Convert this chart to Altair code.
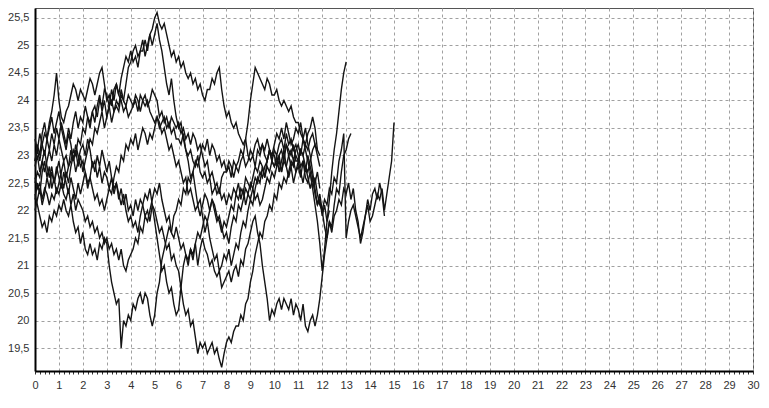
import altair as alt
import pandas as pd

# y values, one value every 0.1 on the x axis, starting at x = 0
s1 = [22.5, 22.7, 22.6, 22.9, 22.7, 22.9, 23.1, 22.9, 23.2, 23.0,
      23.3, 23.1, 22.9, 23.0, 22.8, 22.9, 23.1, 23.0, 23.3, 23.2,
      23.5, 23.4, 23.7, 23.6, 23.8, 23.9, 23.7, 24.0, 23.9, 24.2,
      24.1, 23.9, 24.0, 23.8, 23.9, 23.8, 24.1, 24.0, 24.3, 24.6,
      24.7, 24.9, 25.0, 24.8, 24.9, 24.9, 25.1, 24.9, 25.2, 25.3,
      25.5, 25.6, 25.4, 25.3, 25.4, 25.2, 25.0, 24.8, 24.9, 24.7,
      24.8, 24.6, 24.7, 24.5, 24.4, 24.5, 24.3, 24.4, 24.2, 24.3,
      24.1, 24.0, 24.2, 24.2, 24.4, 24.3, 24.5, 24.6, 24.2, 23.9,
      23.7, 23.8, 23.6, 23.5, 23.6, 23.4, 23.3, 23.2, 23.3, 23.0,
      22.9, 23.0, 22.8, 23.1, 23.0, 23.2, 23.1, 23.3, 23.1, 23.0,
      23.0, 22.8, 23.0, 23.1, 22.9, 23.2, 23.1, 23.0, 23.2, 22.9,
      22.9, 23.1, 23.0, 23.2, 23.1, 23.3, 23.4, 23.2, 23.1, 23.0]
s2 = [22.9, 23.1, 22.9, 23.2, 23.4, 23.3, 23.6, 23.8, 24.1, 24.5,
      24.0, 23.7, 23.6, 23.8, 23.9, 24.1, 24.3, 24.2, 24.0, 24.2,
      24.1, 24.0, 24.2, 24.4, 24.3, 24.1, 24.3, 24.5, 24.6, 24.3,
      24.0, 24.1, 23.9, 24.2, 24.3, 24.1, 24.0, 23.8, 23.9, 23.7,
      23.8, 23.9, 24.0, 23.8, 24.1, 24.0, 23.9, 24.0, 23.8, 23.7,
      23.6, 23.7, 23.5, 23.6, 23.7, 23.5, 23.6, 23.4, 23.5, 23.3,
      23.3, 23.2, 23.4, 23.1, 23.0, 23.1, 22.9, 22.8, 23.0, 22.7,
      22.6, 22.7, 22.5, 22.6, 22.3, 22.4, 22.5, 22.3, 22.6, 22.7,
      22.7, 22.8, 22.6, 22.9, 22.8, 22.9, 23.1, 23.0, 23.3, 23.6,
      24.0, 24.3, 24.6, 24.5, 24.4, 24.3, 24.2, 24.4, 24.3, 24.1,
      24.1, 24.2, 24.0, 23.9, 24.0, 23.9, 23.8, 23.9, 23.7, 23.6,
      23.6, 23.4, 23.3, 23.2, 23.4, 23.5, 23.7, 23.5, 23.1]
s3 = [22.3, 22.1, 21.9, 21.7, 21.8, 21.6, 21.9, 21.8, 22.0, 21.9,
      22.1, 22.0, 22.2, 22.0, 21.9, 22.1, 21.8, 21.6, 21.7, 21.4,
      21.6, 21.3, 21.2, 21.4, 21.2, 21.3, 21.1, 21.4, 21.3, 21.5,
      21.4, 21.0, 20.7, 20.5, 20.3, 20.4, 19.5, 20.0, 19.9, 20.1,
      20.0, 20.3, 20.2, 20.4, 20.5, 20.3, 20.5, 20.4, 20.1, 19.9,
      20.1, 20.5, 20.7, 21.1, 21.3, 21.5, 21.7, 21.6, 21.9, 22.0,
      22.2, 22.1, 22.4, 22.3, 22.6, 22.5, 22.7, 22.9, 22.8, 23.0,
      23.2, 23.1, 23.3, 23.0, 23.2, 23.1, 22.9, 23.0, 22.8, 22.9,
      22.7, 22.9, 22.8, 22.6, 22.8, 22.7, 22.9, 23.0, 22.8, 22.9,
      23.1, 23.0, 23.2, 23.3, 23.1, 23.2, 23.0, 22.9, 23.1, 22.9,
      22.8, 22.9, 23.0, 22.7, 22.9, 22.8, 23.0, 23.1, 22.9, 23.1,
      23.2, 23.0, 23.3, 23.1, 22.9, 22.7, 22.4, 22.1, 21.8, 21.4,
      20.9, 21.3, 21.8, 22.2, 22.7, 23.1, 23.4, 23.8, 24.2, 24.5,
      24.7]
s4 = [22.8, 23.0, 22.7, 22.9, 23.1, 22.8, 22.6, 22.8, 22.5, 22.7,
      22.9, 22.6, 22.4, 22.7, 22.5, 22.8, 23.0, 22.7, 22.9, 23.1,
      23.2, 23.0, 23.3, 23.1, 22.8, 22.9, 22.6, 22.8, 22.5, 22.7,
      22.6, 22.4, 22.6, 22.3, 22.5, 22.2, 22.4, 22.1, 22.3, 22.0,
      22.1, 21.9, 22.2, 22.0, 22.2, 22.1, 21.9, 22.0, 21.8, 22.1,
      22.0, 21.8, 21.6, 21.7, 21.5, 21.3, 21.4, 21.1, 21.2, 21.0,
      20.9, 20.6, 20.3, 20.1, 20.2, 19.9, 20.0, 19.7, 19.4, 19.6,
      19.5, 19.6, 19.4, 19.5, 19.6, 19.4, 19.5, 19.3, 19.15, 19.4,
      19.6, 19.7, 19.6, 19.8, 19.9, 19.9, 20.1, 20.0, 20.3, 20.4,
      20.7, 20.9, 21.2, 21.4, 21.6, 21.5, 21.8, 21.9, 22.1, 22.0,
      22.3, 22.2, 22.5, 22.4, 22.6, 22.5, 22.7, 22.9, 22.8, 23.0,
      22.9, 23.1, 23.0, 22.8, 22.7, 22.9, 23.1, 23.2, 23.0, 22.8]
s5 = [22.6, 22.4, 22.5, 22.2, 22.4, 22.3, 22.1, 22.3, 22.2, 22.4,
      22.3, 22.5, 22.3, 22.2, 22.4, 22.1, 22.3, 22.0, 22.2, 22.1,
      22.0, 21.8, 21.9, 21.7, 21.8, 21.6, 21.7, 21.5, 21.6, 21.4,
      21.5, 21.3, 21.4, 21.2, 21.3, 21.1, 21.3, 21.0, 20.9, 21.1,
      21.2, 21.3, 21.5, 21.4, 21.7, 21.6, 21.9, 21.8, 22.0, 22.2,
      22.4, 22.3, 22.5, 22.2, 22.0, 21.8, 21.9, 21.6, 21.5, 21.7,
      21.5, 21.3, 21.4, 21.2, 21.1, 21.3, 21.2, 21.4, 21.0, 21.3,
      21.5, 21.3, 21.2, 21.0, 21.1, 20.9, 20.8, 20.9, 20.6, 20.7,
      20.8, 20.9, 20.7, 20.9, 21.0, 20.8, 21.1, 21.0, 21.3, 21.4,
      21.6, 21.8, 21.9, 21.6, 21.4, 21.0, 20.7, 20.4, 20.0, 20.2,
      20.1, 20.3, 20.4, 20.2, 20.4, 20.3, 20.2, 20.4, 20.1, 20.3,
      20.2, 20.0, 20.3, 19.9, 19.8, 20.0, 20.1, 19.9, 20.1, 20.4,
      20.8, 21.2, 21.5, 21.8, 21.7, 22.1, 22.4, 22.3, 22.7, 23.0,
      23.1, 23.3, 23.4]
s6 = [22.2, 22.5, 22.3, 22.7, 22.9, 22.6, 22.8, 22.4, 22.6, 22.3,
      22.5, 22.7, 22.9, 22.6, 22.8, 23.1, 22.9, 23.2, 23.0, 22.8,
      22.9, 22.7, 22.5, 22.6, 22.4, 22.2, 22.3, 22.1, 22.2, 22.0,
      22.2, 22.4, 22.3, 22.6, 22.8, 22.7, 23.0, 22.9, 23.2, 23.1,
      23.3, 23.2, 23.4, 23.1, 23.3, 23.5, 23.4, 23.2, 23.4, 23.3,
      23.5, 23.7, 23.6, 23.4, 23.5, 23.3, 23.1, 23.2, 23.0, 22.8,
      22.9, 22.7, 22.5, 22.6, 22.3, 22.4, 22.2, 22.0, 22.1, 21.9,
      22.1, 22.3, 22.2, 22.0, 22.2, 22.1, 21.9, 21.8, 21.6, 21.8,
      21.7, 21.9, 22.1, 22.0, 22.3, 22.2, 22.4, 22.3, 22.6, 22.5,
      22.4, 22.6, 22.8, 22.7, 22.9, 22.8, 22.6, 22.8, 22.7, 22.9,
      23.1, 23.0, 23.2, 23.3, 23.1, 23.4, 23.2, 23.3, 23.1, 23.2,
      23.0, 22.8, 22.9, 22.6, 22.5, 22.7, 22.4, 22.6, 22.3, 22.1,
      22.0, 22.2, 22.1, 22.4, 22.3, 22.6, 22.5, 22.9, 23.1, 23.4,
      21.5, 21.8, 22.0, 22.1, 21.9, 21.7, 21.5, 21.7, 21.9, 22.1,
      21.8, 21.9, 22.1, 22.3, 22.2, 22.4, 22.0, 22.3, 22.6, 22.9,
      23.6]
s7 = [23.3, 23.1, 23.4, 23.2, 23.0, 23.3, 23.1, 23.4, 23.2, 23.5,
      23.3, 23.6, 23.4, 23.2, 23.5, 23.3, 23.6, 23.8, 23.5, 23.7,
      23.6, 23.9, 23.7, 23.5, 23.8, 23.6, 23.9, 24.1, 23.8, 24.0,
      23.7, 23.9, 23.6, 23.8, 24.0, 23.9, 24.2, 24.0, 23.9, 24.1,
      24.0, 23.9, 24.1, 24.0, 23.8, 24.0, 24.1, 23.9, 24.0, 24.2,
      24.1, 24.0, 23.7, 23.8, 23.6, 23.7, 23.5, 23.7, 23.6, 23.5,
      23.6, 23.4, 23.5, 23.3, 23.4, 23.2, 23.4, 23.3, 23.1, 23.2,
      23.0, 22.8, 22.9, 22.6, 22.7, 22.5, 22.3, 22.4, 22.2, 22.3,
      22.1, 22.3, 22.2, 22.4, 22.3, 22.5, 22.2, 22.4, 22.1, 22.3,
      22.2, 22.4, 22.6, 22.5, 22.7, 22.6, 22.8, 22.9, 23.1, 23.0,
      23.2, 23.4, 23.3, 23.5, 23.3, 23.6, 23.4, 23.2, 23.3, 23.5,
      23.4, 23.6, 23.3, 23.5, 23.2, 23.0, 22.7, 22.4, 22.1, 22.3,
      22.0, 21.7, 21.5, 21.8, 21.6, 21.9, 22.0, 22.2, 22.1, 22.4,
      22.3, 22.5, 22.2, 22.4, 22.0, 21.8, 21.4, 21.6, 21.9, 22.2,
      22.0, 22.3, 22.4, 22.2, 22.5, 22.3, 21.9]
s8 = [22.9, 23.2, 23.0, 23.4, 23.6, 23.3, 23.5, 23.7, 23.4, 23.6,
      23.8, 23.5, 23.3, 23.1, 23.4, 23.2, 22.9, 23.1, 22.8, 23.0,
      22.7, 22.9, 23.1, 23.3, 23.2, 23.5, 23.4, 23.6, 23.8, 23.5,
      23.7, 23.9, 24.2, 24.0, 24.3, 24.1, 24.4, 24.6, 24.8, 24.7,
      24.9, 24.7, 24.8, 24.6, 24.9, 25.1, 24.8, 25.0, 25.2, 25.0,
      25.2, 25.4, 25.1, 24.9, 24.6, 24.3, 24.1, 24.4, 24.0, 23.7,
      23.5, 23.6, 23.3, 23.1, 22.9, 22.6, 22.7, 22.4, 22.1, 22.2,
      21.9, 21.6, 21.8, 21.5, 21.3, 21.1, 21.2, 20.9, 21.0, 21.2,
      21.1, 21.3, 21.0, 21.2, 21.4, 21.3, 21.6, 21.8, 21.7, 22.0,
      22.2, 22.1, 22.4, 22.6, 22.5, 22.8, 22.6, 22.9, 23.1, 22.9,
      22.8, 23.0, 22.7, 22.9, 23.1, 22.8, 22.6, 22.8, 22.5, 22.7,
      22.9, 22.7, 22.5, 22.8, 22.6, 22.4, 22.6, 22.3, 22.1, 22.2,
      21.9, 22.1, 21.8, 22.0]
s9 = [22.0, 22.2, 22.4, 22.1, 22.3, 22.6, 22.4, 22.7, 22.5, 22.8,
      22.6, 22.4, 22.7, 22.5, 22.3, 22.6, 22.4, 22.2, 22.5, 22.3,
      22.5, 22.7, 22.4, 22.6, 22.9, 22.7, 23.0, 22.8, 23.1, 22.9,
      22.7, 22.9, 22.6, 22.4, 22.5, 22.3, 22.1, 22.3, 22.0, 21.8,
      21.9, 21.7, 21.8, 21.6, 21.9, 22.1, 22.3, 22.2, 22.4, 22.1,
      21.8, 21.5, 21.2, 20.9, 21.0, 20.7, 20.5, 20.6, 20.3, 20.1,
      20.2, 20.6, 21.0, 21.2, 21.0, 21.3, 21.1, 21.4, 21.6, 21.5,
      21.7, 21.9, 21.8, 22.0, 22.2, 22.0, 21.8, 21.9, 21.7, 21.5,
      21.6, 21.4, 21.7, 21.9, 21.8, 22.1, 22.0, 22.2, 22.4, 22.3,
      22.5, 22.4, 22.2, 22.3, 22.1, 22.2, 22.4, 22.6, 22.5, 22.7,
      22.6, 22.8, 22.9, 22.7, 23.0, 23.2, 23.0, 22.8, 22.9, 22.7,
      22.8, 22.6, 22.9, 22.7, 23.0, 22.8, 22.6, 22.5, 22.7, 22.4]

series = {"1": s1, "2": s2, "3": s3, "4": s4, "5": s5,
          "6": s6, "7": s7, "8": s8, "9": s9}

x_ticks = [round(i * 0.2, 1) for i in range(151)]
y_ticks = [19.5, 20, 20.5, 21, 21.5, 22, 22.5, 23, 23.5, 24, 24.5, 25, 25.5]

rows = []
for name, ys in series.items():
    for i, v in enumerate(ys):
        rows.append({"s": name, "x": round(i * 0.1, 1), "y": v})
df = pd.DataFrame(rows)

minor = "abs(datum.value - round(datum.value)) > 0.01"

chart = alt.Chart(df).mark_line(color="#141414", strokeWidth=1.4).encode(
    x=alt.X("x:Q",
            scale=alt.Scale(domain=[0, 30], nice=False, zero=False),
            axis=alt.Axis(values=x_ticks, title=None,
                          labelExpr=f"({minor}) ? '' : toString(datum.value)",
                          labelFont="Liberation Sans", labelFontSize=11,
                          labelColor="#333333", labelPadding=5,
                          labelFlush=False, labelOverlap=False,
                          domainColor="#000000", domainWidth=2,
                          tickColor="#333333",
                          tickSize=3,
                          gridColor="#a0a0a0", gridDash=[3, 3], gridWidth=1,
                          gridOpacity={"condition": {"test": minor, "value": 0}, "value": 1})),
    y=alt.Y("y:Q",
            scale=alt.Scale(domain=[19.083, 25.681], nice=False, zero=False),
            axis=alt.Axis(values=y_ticks, title=None,
                          labelExpr="replace(toString(datum.value), '.', ',')",
                          labelFont="Liberation Sans", labelFontSize=11,
                          labelColor="#333333", labelPadding=6,
                          ticks=False,
                          domainColor="#000000", domainWidth=2,
                          gridColor="#a0a0a0", gridDash=[3, 3], gridWidth=1)),
    detail="s:N",
).properties(
    width=718, height=363,
    autosize=alt.AutoSizeParams(type="none"),
    padding={"left": 27, "top": 0, "right": 8, "bottom": 29},
).configure_view(stroke="#555555", strokeWidth=1)

chart.save("out.html", embed_options={"renderer": "svg", "actions": False})
